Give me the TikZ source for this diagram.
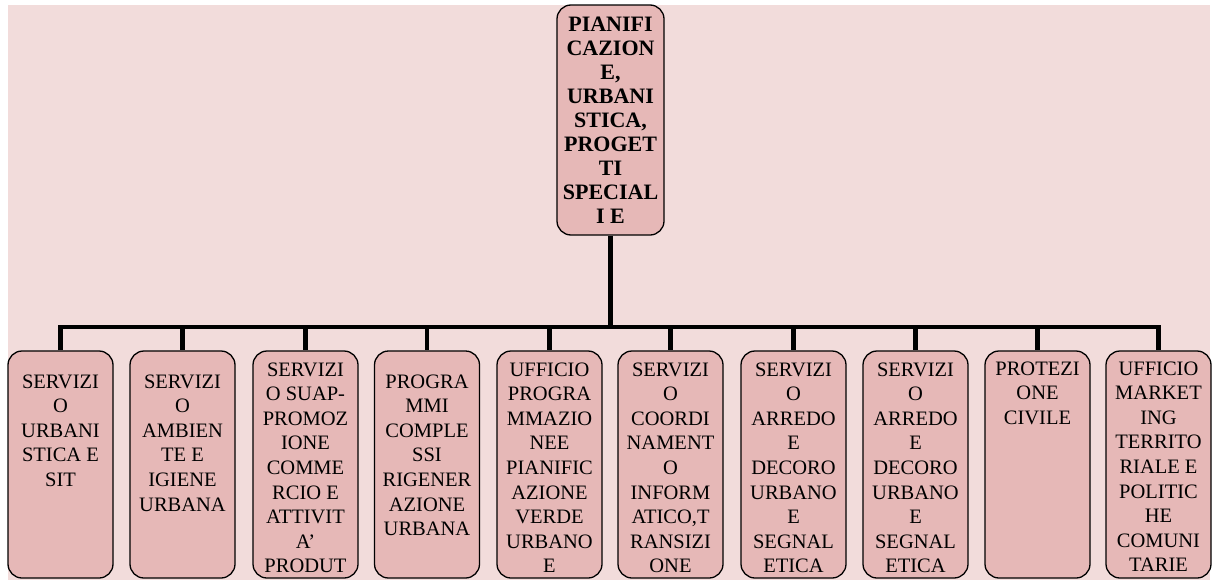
\documentclass[tikz,border=0pt]{standalone}
\usepackage{fontspec}
\setmainfont{Liberation Serif}
\definecolor{bgpink}{HTML}{F2DCDB}
\definecolor{boxpink}{HTML}{E6B8B7}
\begin{document}
\begin{tikzpicture}[x=1pt,y=-1pt,
  leaf/.style={draw=black, line width=1.3pt, fill=boxpink, rounded corners=14pt,
    minimum width=105pt, minimum height=227pt, inner sep=0pt},
  rootbox/.style={draw=black, line width=1.3pt, fill=boxpink, rounded corners=14pt,
    minimum width=107pt, minimum height=230pt, inner sep=0pt},
  txt/.style={anchor=north, align=center, inner sep=0pt,
    font=\fontsize{20.5}{24.6}\selectfont},
  roottxt/.style={anchor=north, align=center, inner sep=0pt,
    font=\fontsize{22}{24}\selectfont\bfseries},
  conn/.style={line width=4.5pt, black, line join=miter}]
\useasboundingbox (0,0) rectangle (1212,581);
\fill[bgpink] (8,5) rectangle (1210,580);

\node[rootbox] (root) at (610.5,120) {};
\node[roottxt] (roott) at ([yshift=-12pt]root.north) {PIANIFI\\CAZION\\E,\\URBANI\\STICA,\\PROGET\\TI\\SPECIAL\\I E};

\node[leaf] (b1) at (60.5,464.5) {};
\node[leaf] (b2) at (182.5,464.5) {};
\node[leaf] (b3) at (305.5,464.5) {};
\node[leaf] (b4) at (427,464.5) {};
\node[leaf] (b5) at (549.5,464.5) {};
\node[leaf] (b6) at (670.5,464.5) {};
\node[leaf] (b7) at (793.5,464.5) {};
\node[leaf] (b8) at (915.5,464.5) {};
\node[leaf] (b9) at (1037.5,464.5) {};
\node[leaf] (b10) at (1158.5,464.5) {};

\node[txt] (t1) at ([yshift=-24pt]b1.north) {SERVIZI\\O\\URBANI\\STICA E\\SIT};
\node[txt] (t2) at ([yshift=-24pt]b2.north) {SERVIZI\\O\\AMBIEN\\TE E\\IGIENE\\URBANA};
\node[txt] (t3) at ([yshift=-12pt]b3.north) {SERVIZI\\O SUAP-\\PROMOZ\\IONE\\COMME\\RCIO E\\ATTIVIT\\A’\\PRODUT};
\node[txt] (t4) at ([yshift=-24pt]b4.north) {PROGRA\\MMI\\COMPLE\\SSI\\RIGENER\\AZIONE\\URBANA};
\node[txt] (t5) at ([yshift=-12pt]b5.north) {UFFICIO\\PROGRA\\MMAZIO\\NEE\\PIANIFIC\\AZIONE\\VERDE\\URBANO\\E};
\node[txt] (t6) at ([yshift=-12pt]b6.north) {SERVIZI\\O\\COORDI\\NAMENT\\O\\INFORM\\ATICO,T\\RANSIZI\\ONE};
\node[txt] (t7) at ([yshift=-12pt]b7.north) {SERVIZI\\O\\ARREDO\\E\\DECORO\\URBANO\\E\\SEGNAL\\ETICA};
\node[txt] (t8) at ([yshift=-12pt]b8.north) {SERVIZI\\O\\ARREDO\\E\\DECORO\\URBANO\\E\\SEGNAL\\ETICA};
\node[txt] (t9) at ([yshift=-11pt]b9.north) {PROTEZI\\ONE\\CIVILE};
\node[txt] (t10) at ([yshift=-11pt]b10.north) {UFFICIO\\MARKET\\ING\\TERRITO\\RIALE E\\POLITIC\\HE\\COMUNI\\TARIE};

\coordinate (bus) at (610.5,327);
\draw[conn] (root.south) -- (root.south |- bus);
\draw[conn] (b1.north) -- (b1.north |- bus) -- (b10.north |- bus) -- (b10.north);
\foreach \b in {b2,b3,b4,b5,b6,b7,b8,b9}
  \draw[conn] (\b.north |- bus) -- (\b.north);
\end{tikzpicture}
\end{document}
